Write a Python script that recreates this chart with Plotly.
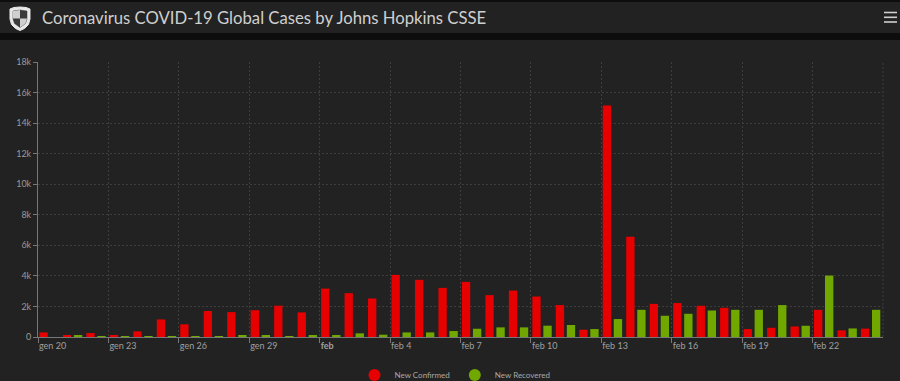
import datetime as dt
import plotly.graph_objects as go

# ---- data ----
start_date = "2020-01-20"
new_confirmed = [300, 90, 260, 100, 370, 1150, 830, 1700, 1630, 1755, 2050, 1610,
                 3170, 2870, 2520, 4065, 3740, 3215, 3610, 2740, 3040, 2650, 2090, 475,
                 15150, 6565, 2170, 2220, 2045, 1910, 520, 605, 690, 1780, 435, 550]
new_recovered = [0, 90, 15, 5, 10, 10, 10, 20, 80, 80, 25, 100,
                 70, 240, 150, 300, 300, 390, 540, 630, 630, 740, 785, 520,
                 1175, 1780, 1390, 1520, 1735, 1780, 1780, 2090, 735, 4020, 560, 1780]
x_tick_dates = ["2020-01-20", "2020-01-23", "2020-01-26", "2020-01-29", "2020-02-01",
                "2020-02-04", "2020-02-07", "2020-02-10", "2020-02-13", "2020-02-16",
                "2020-02-19", "2020-02-22"]
x_tick_text = ["gen 20", "gen 23", "gen 26", "gen 29", "<b>feb</b>", "feb 4", "feb 7",
               "feb 10", "feb 13", "feb 16", "feb 19", "feb 22"]
y_tick_vals = [0, 2000, 4000, 6000, 8000, 10000, 12000, 14000, 16000, 18000]
y_tick_text = ["0", "2k", "4k", "6k", "8k", "10k", "12k", "14k", "16k", "18k"]
series_names = ["New Confirmed", "New Recovered"]
title_text = "Coronavirus COVID-19 Global Cases by Johns Hopkins CSSE"

RED = "#e60000"
GREEN = "#70a800"
BG = "#222222"

d0 = dt.date.fromisoformat(start_date)
dates = [(d0 + dt.timedelta(days=i)).isoformat() for i in range(len(new_confirmed))]
DAY = 86400000

W, H = 900, 381
ML, MR, MT, MB = 38, 17, 62, 44
PW, PH = W - ML - MR, H - MT - MB


def px(x):
    return (x - ML) / PW


def py(y):
    return (H - MB - y) / PH


fig = go.Figure()
fig.add_trace(go.Bar(x=dates, y=new_confirmed, name=series_names[0], marker_color=RED,
                     marker_line_width=0, width=0.355 * DAY, offset=0.06 * DAY,
                     showlegend=False, hoverinfo="x+y"))
fig.add_trace(go.Bar(x=dates, y=new_recovered, name=series_names[1], marker_color=GREEN,
                     marker_line_width=0, width=0.355 * DAY, offset=0.53 * DAY,
                     showlegend=False, hoverinfo="x+y"))
# legend entries with circular symbols
for name, col in zip(series_names, [RED, GREEN]):
    fig.add_trace(go.Scatter(x=[None], y=[None], mode="markers", name=name,
                             marker=dict(color=col, size=12, symbol="circle")))

shapes = []
# black separator strips
shapes.append(dict(type="rect", xref="paper", yref="paper", x0=px(0), x1=px(W),
                   y0=py(33), y1=py(40), fillcolor="#0d0d0d", line_width=0, layer="below"))
shapes.append(dict(type="rect", xref="paper", yref="paper", x0=px(0), x1=px(W),
                   y0=py(0), y1=py(2), fillcolor="#0d0d0d", line_width=0, layer="below"))
# right edge dashed gridline
shapes.append(dict(type="line", xref="paper", yref="paper", x0=1, x1=1, y0=0, y1=1,
                   line=dict(color="#3d3d3d", width=1, dash="2px,2px")))
# hamburger menu
for yy in (12.5, 17.3, 22):
    shapes.append(dict(type="line", xref="paper", yref="paper", x0=px(884), x1=px(897),
                       y0=py(yy), y1=py(yy), line=dict(color="#cfcfcf", width=1.6)))
# logo shield
def pth(points):
    s = "M " + " L ".join(f"{px(a):.5f},{py(b):.5f}" for a, b in points) + " Z"
    return s

shield = [(10, 9), (14, 7.5), (20, 7), (26, 7.5), (30, 9), (30, 19), (28.5, 24.5),
          (24.5, 28.5), (20, 30.5), (15.5, 28.5), (11.5, 24.5), (10, 19)]
shapes.append(dict(type="path", xref="paper", yref="paper", path=pth(shield),
                   fillcolor="#e8e8e8", line=dict(color="#e8e8e8", width=1)))
inner = [(13, 11), (20, 10), (27, 11), (27, 19), (25.5, 23.5), (20, 27.5), (14.5, 23.5), (13, 19)]
shapes.append(dict(type="path", xref="paper", yref="paper", path=pth(inner),
                   fillcolor="#3a3a3a", line=dict(color="#3a3a3a", width=0.5)))
quad = [(13, 11), (20, 10), (20, 18.5), (13, 18.5)]
shapes.append(dict(type="path", xref="paper", yref="paper", path=pth(quad),
                   fillcolor="#d0d0d0", line_width=0))
quad2 = [(20, 18.5), (27, 18.5), (25.5, 23.5), (20, 27.5)]
shapes.append(dict(type="path", xref="paper", yref="paper", path=pth(quad2),
                   fillcolor="#d0d0d0", line_width=0))

fig.update_layout(
    width=W, height=H,
    margin=dict(l=ML, r=MR, t=MT, b=MB, pad=0, autoexpand=False),
    paper_bgcolor=BG, plot_bgcolor=BG,
    barmode="overlay",
    font=dict(family="Lato, 'Open Sans', sans-serif", color="#9a9a9a", size=9),
    title=dict(text=title_text, xref="container", yref="container",
               x=42 / W, xanchor="left", y=1 - 18.5 / H, yanchor="middle",
               font=dict(family="Lato, 'Open Sans', sans-serif", size=16.7, color="#cfcfcf")),
    xaxis=dict(type="date", range=["2020-01-20", "2020-02-25"],
               tickvals=x_tick_dates, ticktext=x_tick_text,
               ticklabelposition="outside right",
               showgrid=True, gridcolor="#3d3d3d", griddash="2px,2px", gridwidth=1,
               showline=True, linecolor="#777777", linewidth=1,
               ticks="outside", ticklen=5, tickcolor="#777777",
               tickfont=dict(size=9, color="#a0a0a0"), zeroline=False, fixedrange=True),
    yaxis=dict(range=[0, 18000], tickvals=y_tick_vals, ticktext=y_tick_text,
               showgrid=True, gridcolor="#3d3d3d", griddash="2px,2px", gridwidth=1,
               showline=True, linecolor="#777777", linewidth=1,
               ticks="outside", ticklen=4, tickcolor="#777777",
               tickfont=dict(size=9, color="#9a9a9a"), zeroline=False, fixedrange=True),
    legend=dict(orientation="h", xref="container", yref="container",
                x=455 / W, xanchor="center", y=1 - 375 / H, yanchor="middle",
                font=dict(size=8, color="#a8a8a8"), bgcolor="rgba(0,0,0,0)",
                itemsizing="constant", itemwidth=30, tracegroupgap=0),
    shapes=shapes,
    showlegend=True,
)

fig.write_html("out.html", config={"displayModeBar": False},
               post_script="document.body.style.margin='0';document.body.style.overflow='hidden';")
